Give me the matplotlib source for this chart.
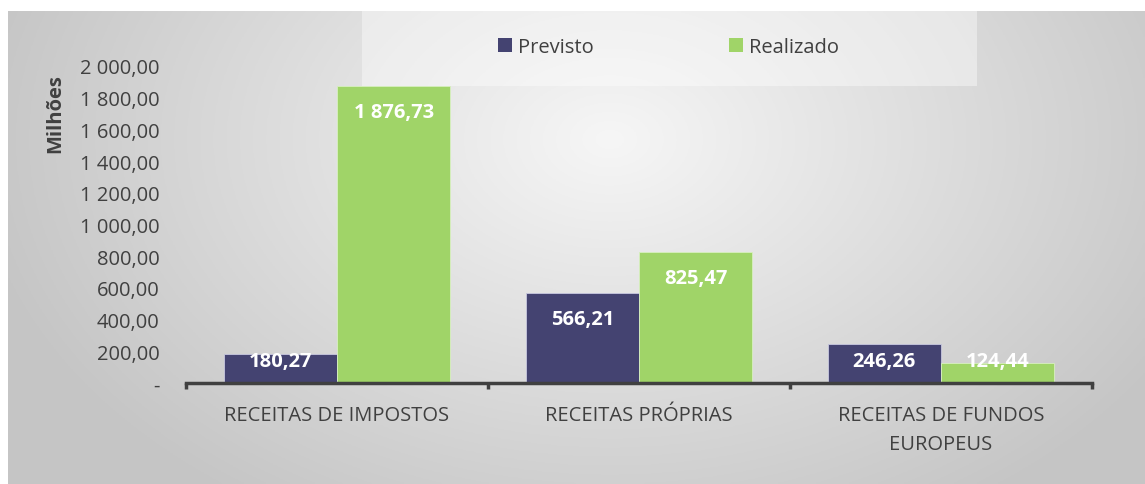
import numpy as np
import matplotlib
matplotlib.use("Agg")
import matplotlib.pyplot as plt
from matplotlib.patches import Patch, Rectangle
from matplotlib.ticker import FuncFormatter

# data
categorias = ["RECEITAS DE IMPOSTOS", "RECEITAS PRÓPRIAS", "RECEITAS DE FUNDOS\nEUROPEUS"]
previsto = [180.27, 566.21, 246.26]
realizado = [1876.73, 825.47, 124.44]
yticks = [0, 200, 400, 600, 800, 1000, 1200, 1400, 1600, 1800, 2000]

cor_prev = "#444371"
cor_real = "#a0d468"
cinza_txt = "#404040"
fs = 14.5

plt.rcParams["font.family"] = ["Open Sans", "DejaVu Sans"]

W, H = 1145, 485
fig = plt.figure(figsize=(W / 100, H / 100), dpi=100)
fig.patch.set_facecolor("white")

# radial gradient background of the chart area
bg = fig.add_axes([8 / W, 0, 1 - 8 / W, 473 / H], zorder=-2)
gx, gy = np.meshgrid(np.linspace(8, W, 400), np.linspace(12, H, 200))
r = np.sqrt(((gx - 610) / 640) ** 2 + ((gy - 140) / 440) ** 2)
r = np.clip(r, 0, 1)
g = 0.965 - r * 0.19
bg.imshow(np.dstack([g, g, g]), extent=[0, 1, 0, 1], aspect="auto", origin="upper")
bg.axis("off")

# lighter legend band
fig.patches.append(Rectangle((362 / W, (H - 87) / H), (977 - 362) / W, 75 / H,
                             transform=fig.transFigure, facecolor="white",
                             edgecolor="none", alpha=0.4, zorder=-1))

ax = fig.add_axes([186 / W, 101 / H, (1092 - 186) / W, 317 / H])
ax.set_facecolor("none")

x = np.arange(len(categorias))
w = 0.375
b1 = ax.bar(x - w / 2, previsto, w, color=cor_prev, edgecolor="#c8c8e0", linewidth=0.6, label="Previsto")
b2 = ax.bar(x + w / 2, realizado, w, color=cor_real, edgecolor="#d8f0c0", linewidth=0.6, label="Realizado")

def fmt(v, pos=None):
    if v == 0:
        return "-"
    s = "{:,.2f}".format(v)
    return s.replace(",", " ").replace(".", ",")

for bars, vals in [(b1, previsto), (b2, realizado)]:
    for bar, v in zip(bars, vals):
        yl = max(v - 164, 139)
        ax.text(bar.get_x() + bar.get_width() / 2, yl, fmt(v), ha="center", va="center",
                color="white", fontsize=fs, fontweight="bold")

ax.set_xlim(-0.5, 2.5)
ax.set_ylim(0, 2000)
ax.set_yticks(yticks)
ax.yaxis.set_major_formatter(FuncFormatter(fmt))
ax.tick_params(axis="y", length=0, pad=19, labelsize=fs, labelcolor=cinza_txt)

ax.set_xticks([-0.5, 0.5, 1.5, 2.5])
ax.set_xticklabels([])
ax.set_xticks(x, minor=True)
ax.set_xticklabels(categorias, minor=True, fontsize=fs, color=cinza_txt, linespacing=1.6)
ax.tick_params(axis="x", which="major", length=4, width=2.5, color=cinza_txt, direction="out")
ax.tick_params(axis="x", which="minor", length=0, pad=16)

for s in ["top", "right", "left"]:
    ax.spines[s].set_visible(False)
ax.spines["bottom"].set_color(cinza_txt)
ax.spines["bottom"].set_linewidth(2.5)

fig.text(55 / W, (H - 114) / H, "Milhões", rotation=90, ha="center", va="center",
         fontsize=fs, fontweight="bold", color=cinza_txt)

handles = [Patch(facecolor=cor_prev), Patch(facecolor=cor_real)]
fig.legend(handles, ["Previsto", "Realizado"], loc="center left",
           bbox_to_anchor=(480 / W, (H - 48) / H), ncol=2, frameon=False,
           fontsize=fs, handlelength=0.7, handleheight=0.7, handletextpad=0.3,
           columnspacing=6.7, labelcolor=cinza_txt)

fig.savefig("out.png", dpi=100)
